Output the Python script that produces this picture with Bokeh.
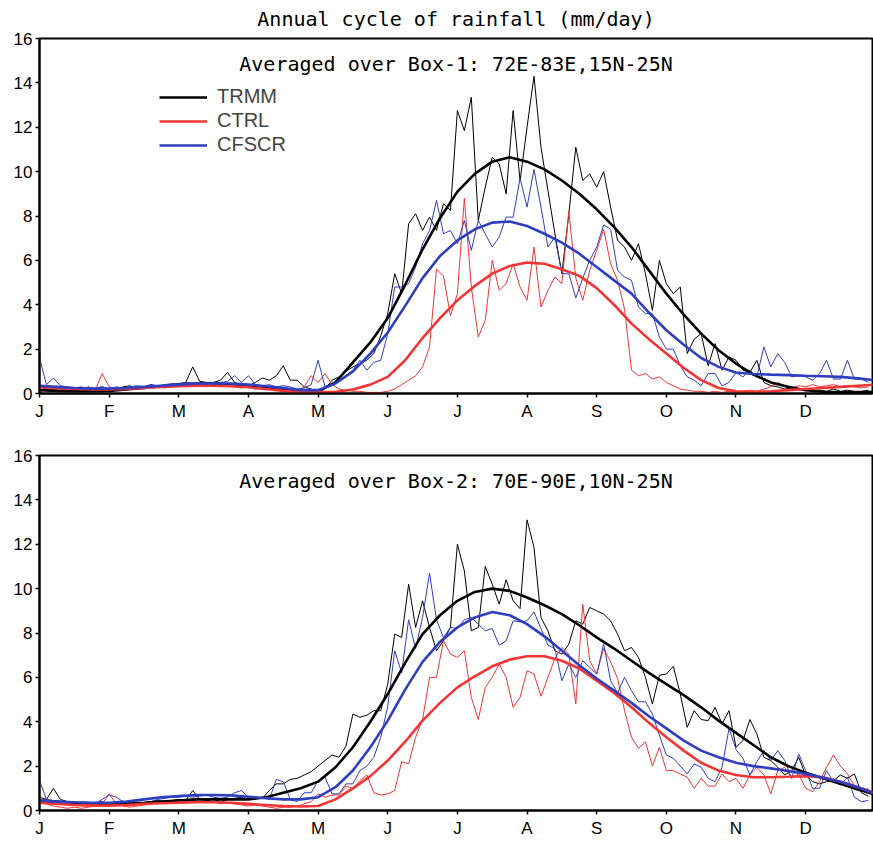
import numpy as np
from bokeh.plotting import figure
from bokeh.models import Range1d, FixedTicker, Label, Legend, LegendItem
from bokeh.layouts import column
from bokeh.embed import file_html
from bokeh.resources import INLINE

# ---------------- data ----------------
MONTHS = ["J", "F", "M", "A", "M", "J", "J", "A", "S", "O", "N", "D"]
DAILY_STEP = 0.1    # months between samples of the daily series
SMOOTH_STEP = 0.25  # months between samples of the annual-cycle curves

TITLE = "Annual cycle of rainfall (mm/day)"
BOX1 = "Averaged over Box-1: 72E-83E,15N-25N"
BOX2 = "Averaged over Box-2: 70E-90E,10N-25N"

# Box-1 daily
trmm1 = [0.3, 0.2, 0.15, 0.1, 0.1, 0.1, 0.15, 0.3, 0.2, 0.3,
         0.2, 0.15, 0.3, 0.35, 0.2, 0.3, 0.4, 0.3, 0.35, 0.4,
         0.45, 0.5, 1.2, 0.55, 0.5, 0.5, 0.6, 0.95, 0.5, 0.4,
         0.35, 0.5, 0.7, 0.6, 0.8, 1.25, 0.6, 0.6, 0.3, 0.2,
         0.1, 0.2, 0.6, 0.75, 1.0, 1.2, 1.35, 1.5, 1.8, 2.6,
         3.6, 5.4, 4.5, 7.65, 8.1, 7.35, 7.95, 7.35, 8.55, 8.25,
         12.75, 11.85, 13.35, 7.8, 9.3, 10.65, 10.35, 9.0, 12.75, 9.6,
         12.0, 14.3, 11.1, 9.15, 7.2, 5.4, 8.1, 11.1, 9.6, 9.9,
         9.3, 10.0, 8.4, 6.9, 6.6, 6.0, 6.75, 5.4, 3.75, 6.0,
         4.95, 4.5, 4.8, 1.8, 2.45, 2.7, 1.25, 2.25, 1.05, 1.65,
         1.5, 1.05, 0.95, 1.5, 0.5, 0.35, 0.3, 0.2, 0.25, 0.15,
         0.2, 0.1, 0.15, 0.1, 0.2, 0.1, 0.15, 0.1, 0.1, 0.15]
ctrl1 = [0.4, 0.2, 0.15, 0.2, 0.15, 0.1, 0.15, 0.1, 0.15, 0.9,
         0.3, 0.2, 0.15, 0.2, 0.25, 0.3, 0.35, 0.3, 0.25, 0.3,
         0.35, 0.3, 0.4, 0.35, 0.3, 0.4, 0.3, 0.35, 0.3, 0.25,
         0.3, 0.2, 0.25, 0.2, 0.15, 0.2, 0.15, 0.1, 0.3, 0.8,
         0.5, 0.9, 0.4, 0.2, 0.15, 0.1, 0.1, 0.05, 0.05, 0.05,
         0.1, 0.2, 0.4, 0.6, 0.8, 1.2, 2.1, 5.6, 5.3, 3.5,
         4.5, 8.8, 4.8, 2.55, 3.3, 6.0, 4.65, 4.95, 5.85, 4.8,
         4.2, 6.6, 3.9, 4.65, 5.25, 4.95, 8.2, 5.2, 4.2, 5.55,
         6.45, 7.4, 5.85, 5.1, 3.8, 1.05, 0.8, 0.9, 0.65, 0.75,
         0.5, 0.35, 0.2, 0.15, 0.1, 0.1, 0.05, 0.1, 0.05, 0.1,
         0.05, 0.1, 0.15, 0.1, 0.2, 0.3, 0.5, 0.3, 0.25, 0.35,
         0.3, 0.4, 0.3, 0.35, 0.4, 0.3, 0.35, 0.3, 0.25, 0.3]
cfscr1 = [1.6, 0.4, 0.7, 0.35, 0.3, 0.25, 0.3, 0.2, 0.25, 0.3,
          0.2, 0.3, 0.25, 0.3, 0.35, 0.3, 0.4, 0.35, 0.4, 0.45,
          0.4, 0.5, 0.45, 0.5, 0.45, 0.5, 0.5, 0.55, 0.8, 0.5,
          0.8, 0.4, 0.35, 0.4, 0.3, 0.35, 0.3, 0.2, 0.25, 0.4,
          1.5, 0.3, 0.45, 0.6, 0.8, 1.05, 1.5, 1.05, 1.4, 1.5,
          2.7, 4.8, 4.8, 4.95, 5.7, 6.75, 7.35, 8.7, 7.2, 7.35,
          6.75, 7.8, 6.45, 7.8, 7.2, 6.6, 7.05, 7.95, 7.95, 9.7,
          8.4, 10.1, 8.4, 6.6, 7.05, 5.4, 5.4, 4.3, 5.2, 6.0,
          6.6, 7.6, 7.4, 5.55, 5.25, 5.1, 3.9, 3.6, 3.6, 2.55,
          2.0, 2.0, 1.25, 0.75, 0.6, 0.35, 0.9, 0.9, 0.35, 0.5,
          0.95, 0.75, 1.05, 0.75, 2.1, 1.2, 1.8, 1.4, 0.75, 0.8,
          0.75, 0.6, 0.9, 1.5, 0.65, 0.65, 1.5, 0.65, 0.65, 0.5]

# Box-1 annual cycle
trmm1_s = [0.15, 0.12, 0.1, 0.1, 0.12, 0.18, 0.25, 0.33, 0.4, 0.45, 0.45, 0.42,
           0.35, 0.25, 0.15, 0.08, 0.1, 0.5, 1.4, 2.3, 3.4, 4.9, 6.5, 7.9,
           9.1, 9.9, 10.45, 10.65, 10.45, 10.1, 9.6, 9.0, 8.3, 7.5, 6.6, 5.55,
           4.5, 3.55, 2.7, 1.95, 1.35, 0.85, 0.5, 0.3, 0.15, 0.08, 0.05, 0.05, 0.08]
ctrl1_s = [0.3, 0.25, 0.2, 0.18, 0.18, 0.2, 0.25, 0.3, 0.33, 0.35, 0.35, 0.33,
           0.28, 0.2, 0.12, 0.06, 0.05, 0.08, 0.18, 0.4, 0.75, 1.5, 2.5, 3.4,
           4.2, 4.85, 5.4, 5.75, 5.9, 5.85, 5.6, 5.3, 4.75, 4.0, 3.15, 2.45,
           1.8, 1.15, 0.6, 0.25, 0.1, 0.08, 0.1, 0.15, 0.2, 0.25, 0.3, 0.35, 0.4]
cfscr1_s = [0.35, 0.3, 0.25, 0.22, 0.22, 0.25, 0.3, 0.35, 0.4, 0.45, 0.45, 0.45,
            0.4, 0.33, 0.25, 0.15, 0.15, 0.45, 1.0, 1.8, 2.75, 3.95, 5.2, 6.2,
            6.9, 7.4, 7.7, 7.75, 7.55, 7.2, 6.8, 6.3, 5.7, 5.1, 4.5, 3.65,
            2.85, 2.2, 1.6, 1.2, 0.95, 0.88, 0.85, 0.83, 0.8, 0.78, 0.75, 0.68, 0.6]

# Box-2 daily
trmm2 = [0.6, 0.5, 1.0, 0.5, 0.4, 0.35, 0.35, 0.3, 0.35, 0.4,
         0.3, 0.35, 0.3, 0.35, 0.3, 0.35, 0.4, 0.45, 0.4, 0.45,
         0.5, 0.45, 0.9, 0.5, 0.45, 0.5, 0.4, 0.5, 0.55, 0.6,
         0.5, 0.6, 0.55, 0.9, 1.2, 1.2, 1.4, 1.45, 1.6, 1.75,
         2.0, 2.25, 2.5, 2.4, 2.9, 4.35, 4.2, 4.3, 4.5, 4.5,
         5.7, 7.95, 7.8, 10.2, 8.25, 9.45, 8.25, 7.2, 7.65, 8.25,
         12.0, 10.8, 8.1, 8.25, 11.0, 10.2, 9.3, 10.4, 9.45, 9.1,
         13.1, 11.85, 8.7, 8.1, 7.2, 7.05, 7.5, 8.55, 8.4, 9.15,
         9.0, 8.85, 8.55, 7.95, 7.2, 7.35, 6.9, 6.0, 4.8, 6.1,
         6.15, 6.5, 5.25, 3.75, 4.5, 4.1, 4.05, 4.65, 3.9, 4.5,
         2.85, 3.15, 4.1, 3.45, 2.4, 2.25, 1.95, 1.6, 1.8, 2.4,
         1.6, 1.3, 1.2, 1.3, 1.35, 1.6, 1.45, 1.65, 0.8, 0.65]
ctrl2 = [0.5, 0.3, 0.2, 0.15, 0.1, 0.15, 0.1, 0.15, 0.2, 0.3,
         0.75, 0.3, 0.2, 0.15, 0.2, 0.25, 0.3, 0.35, 0.3, 0.4,
         0.35, 0.4, 0.45, 0.4, 0.35, 0.4, 0.3, 0.35, 0.3, 0.25,
         0.2, 0.25, 0.2, 0.15, 0.1, 0.15, 0.15, 0.2, 0.3, 0.4,
         0.75, 0.6, 0.7, 0.7, 1.1, 1.0, 1.35, 1.6, 0.8, 0.7,
         0.75, 0.9, 2.2, 2.1, 3.3, 4.1, 6.0, 6.0, 7.65, 7.05,
         6.9, 7.2, 5.1, 4.1, 5.55, 6.0, 6.6, 6.0, 4.65, 5.1,
         6.3, 6.15, 5.15, 6.0, 6.85, 7.35, 7.05, 4.8, 9.3, 6.75,
         6.15, 7.3, 6.7, 5.95, 4.5, 3.3, 2.8, 3.1, 2.0, 2.85,
         1.8, 1.8, 1.65, 1.5, 1.0, 1.45, 1.1, 1.1, 1.65, 1.3,
         1.45, 1.0, 1.6, 1.95, 1.6, 0.75, 1.8, 1.95, 1.45, 1.65,
         1.0, 0.85, 1.3, 1.95, 2.5, 2.0, 1.65, 1.1, 0.85, 1.0]
cfscr2 = [1.35, 0.5, 0.45, 0.4, 0.35, 0.4, 0.3, 0.35, 0.3, 0.5,
          0.7, 0.6, 0.4, 0.35, 0.3, 0.35, 0.4, 0.5, 0.55, 0.6,
          0.6, 0.65, 0.6, 0.65, 0.7, 0.6, 0.55, 0.6, 0.8, 0.9,
          0.6, 0.5, 0.6, 0.5, 1.4, 1.3, 0.5, 0.4, 0.8, 0.8,
          1.35, 1.5, 0.75, 0.75, 1.2, 1.2, 1.8, 2.0, 2.4, 3.3,
          4.7, 7.2, 6.2, 8.6, 7.3, 8.7, 10.7, 8.6, 7.8, 8.25,
          8.2, 8.6, 8.7, 8.4, 8.1, 8.2, 7.45, 7.65, 8.55, 8.5,
          8.55, 8.95, 8.2, 7.45, 7.3, 5.85, 6.6, 6.0, 6.75, 6.45,
          6.15, 7.5, 5.85, 5.3, 6.0, 5.4, 4.9, 4.9, 4.35, 3.4,
          2.5, 2.35, 2.0, 1.65, 2.1, 1.95, 1.45, 1.3, 1.95, 3.7,
          2.75, 2.35, 1.6, 2.2, 2.7, 2.25, 2.7, 2.25, 1.45, 2.55,
          1.8, 1.0, 1.0, 1.8, 1.3, 1.15, 1.5, 0.6, 0.4, 0.45]

# Box-2 annual cycle
trmm2_s = [0.45, 0.4, 0.35, 0.32, 0.3, 0.32, 0.35, 0.4, 0.45, 0.5, 0.5, 0.5,
           0.5, 0.6, 0.8, 1.0, 1.3, 1.95, 2.85, 4.0, 5.25, 6.65, 7.95, 8.8,
           9.45, 9.85, 10.0, 9.9, 9.6, 9.25, 8.85, 8.35, 7.8, 7.3, 6.75, 6.2,
           5.7, 5.2, 4.65, 4.05, 3.5, 2.95, 2.4, 2.0, 1.7, 1.45, 1.2, 0.95, 0.72]
ctrl2_s = [0.35, 0.3, 0.25, 0.22, 0.22, 0.25, 0.3, 0.33, 0.35, 0.37, 0.37, 0.35,
           0.3, 0.25, 0.2, 0.18, 0.2, 0.5, 1.0, 1.55, 2.25, 3.1, 4.05, 4.85,
           5.55, 6.05, 6.5, 6.8, 6.95, 6.95, 6.75, 6.4, 5.85, 5.3, 4.65, 3.95,
           3.3, 2.7, 2.15, 1.8, 1.6, 1.5, 1.5, 1.52, 1.55, 1.5, 1.3, 1.05, 0.8]
cfscr2_s = [0.45, 0.4, 0.37, 0.35, 0.35, 0.4, 0.5, 0.6, 0.65, 0.7, 0.7, 0.68,
            0.62, 0.55, 0.5, 0.5, 0.6, 1.05, 1.8, 2.85, 4.05, 5.45, 6.7, 7.6,
            8.25, 8.7, 8.95, 8.8, 8.4, 7.85, 7.2, 6.55, 5.95, 5.4, 4.85, 4.25,
            3.7, 3.15, 2.7, 2.4, 2.15, 2.0, 1.9, 1.78, 1.65, 1.48, 1.3, 1.05, 0.75]

SERIES = ["TRMM", "CTRL", "CFSCR"]
COLORS = {"TRMM": "#000000", "CTRL": "#f23535", "CFSCR": "#2f3fbf"}

TICK_FONT = "Liberation Sans"
TEXT_FONT = "DejaVu Sans Mono"


def panel(box_text, daily, smooth, height, border_top, border_bottom,
          title=None, legend=False):
    p = figure(width=873, height=height, output_backend="svg",
               toolbar_location=None,
               x_range=Range1d(0, 11.96), y_range=Range1d(0, 16),
               min_border_left=39, min_border_right=1,
               min_border_top=border_top, min_border_bottom=border_bottom)
    p.background_fill_color = "white"
    p.border_fill_color = "white"
    p.outline_line_color = "black"
    p.outline_line_width = 2
    p.grid.visible = False

    if title:
        p.title.text = title
        p.title.align = "center"
        p.title.vertical_align = "top"
        p.title.text_font = TEXT_FONT
        p.title.text_font_style = "normal"
        p.title.text_font_size = "20px"
        p.title.text_color = "black"
        p.title.standoff = 12
    else:
        p.title.visible = False

    p.xaxis.ticker = FixedTicker(ticks=list(range(12)))
    p.xaxis.major_label_overrides = {i: m for i, m in enumerate(MONTHS)}
    p.yaxis.ticker = FixedTicker(ticks=list(range(0, 17, 2)))
    for ax in (p.xaxis[0], p.yaxis[0]):
        ax.axis_line_width = 2
        ax.major_tick_in = 0
        ax.major_tick_out = 4
        ax.major_tick_line_width = 1.5
        ax.minor_tick_line_color = None
        ax.major_label_text_font = TICK_FONT
        ax.major_label_text_font_size = "17px"
        ax.major_label_text_color = "black"
    p.xaxis.major_label_standoff = 4
    p.yaxis.major_label_standoff = 3

    for name in ["TRMM", "CTRL", "CFSCR"]:
        ys = daily[name]
        xs = np.arange(len(ys)) * DAILY_STEP
        p.line(xs, ys, line_color=COLORS[name], line_width=1.0)

    items = []
    for name in SERIES:
        ys = smooth[name]
        xs = np.arange(len(ys)) * SMOOTH_STEP
        r = p.line(xs, ys, line_color=COLORS[name], line_width=2.6)
        items.append(LegendItem(label=name, renderers=[r]))

    p.add_layout(Label(x=5.98, y=14.85, text=box_text, text_align="center",
                       text_baseline="middle", text_font=TEXT_FONT,
                       text_font_size="20px", text_color="black"))

    if legend:
        lg = Legend(items=items, location=(120, 237), orientation="vertical",
                    background_fill_alpha=0, border_line_color=None,
                    padding=0, margin=0, spacing=1, glyph_width=48,
                    glyph_height=20, label_height=20, label_standoff=10,
                    label_text_font=TICK_FONT, label_text_font_size="20px")
        p.add_layout(lg)
    return p


p1 = panel(BOX1, {"TRMM": trmm1, "CTRL": ctrl1, "CFSCR": cfscr1},
           {"TRMM": trmm1_s, "CTRL": ctrl1_s, "CFSCR": cfscr1_s},
           height=443, border_top=37, border_bottom=50, title=TITLE, legend=True)
p2 = panel(BOX2, {"TRMM": trmm2, "CTRL": ctrl2, "CFSCR": cfscr2},
           {"TRMM": trmm2_s, "CTRL": ctrl2_s, "CFSCR": cfscr2_s},
           height=397, border_top=12, border_bottom=30)

layout = column(p1, p2, spacing=0)
open("out.html", "w").write(file_html(layout, INLINE))
